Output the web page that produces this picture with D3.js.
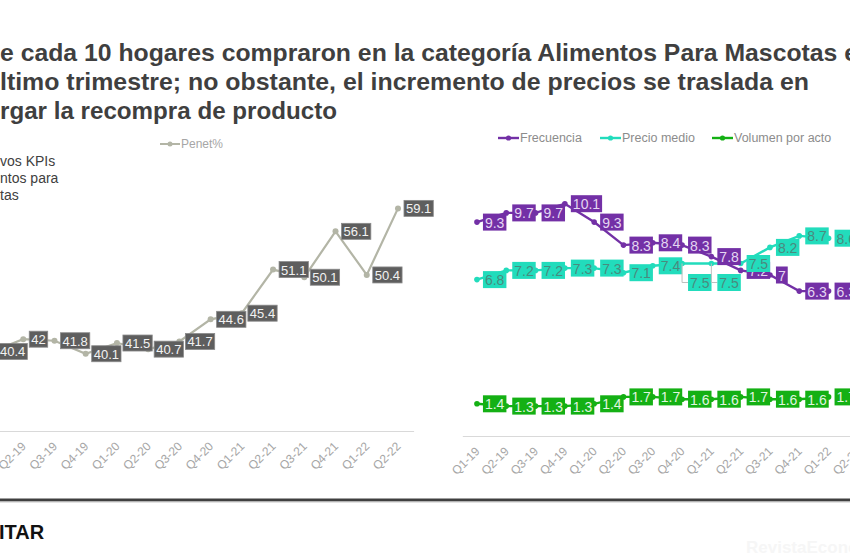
<!DOCTYPE html>
<html><head><meta charset="utf-8">
<script src="https://cdn.jsdelivr.net/npm/d3@7"></script>
<style>
html,body{margin:0;padding:0;background:#fff;overflow:hidden}
svg{display:block;font-family:"Liberation Sans",Arial,sans-serif}
</style></head>
<body>
<svg id="c" width="850" height="560"></svg>
<script>
// ---------- data ----------
const quarters = ["Q1-19","Q2-19","Q3-19","Q4-19","Q1-20","Q2-20","Q3-20","Q4-20","Q1-21","Q2-21","Q3-21","Q4-21","Q1-22","Q2-22"];
const penet = [40.4,42,41.8,40.1,41.5,40.7,41.7,44.6,45.4,51.1,50.1,56.1,50.4,59.1];
const frecuencia = [9.3,9.7,9.7,10.1,9.3,8.3,8.4,8.3,7.8,7.2,7,6.3,6.3];
const precioMedio = [6.8,7.2,7.2,7.3,7.3,7.1,7.4,7.5,7.5,7.5,8.2,8.7,8.6];
const volumenActo = [1.4,1.3,1.3,1.3,1.4,1.7,1.7,1.6,1.6,1.7,1.6,1.6,1.7];
const titleLines = [
  "e cada 10 hogares compraron en la categoría Alimentos Para Mascotas e",
  "ltimo trimestre; no obstante, el incremento de precios se traslada en",
  "rgar la recompra de producto"
];
const sideText = ["vos KPIs","ntos para","tas"];
const seriesNames = ["Frecuencia","Precio medio","Volumen por acto"];

const svg = d3.select("#c");
const FONT = '"Liberation Sans", Arial, sans-serif';

// ---------- title ----------
const titleW = [858, 809, 337];
svg.append("g").selectAll("text").data(titleLines).join("text")
  .attr("x", 0).attr("y", (d,i)=>61 + i*29)
  .attr("font-size", 24.5).attr("font-weight", "bold").attr("fill", "#3f3f3f")
  .attr("textLength", (d,i)=>titleW[i]).attr("lengthAdjust","spacingAndGlyphs")
  .text(d=>d);

// side text
svg.append("g").selectAll("text").data(sideText).join("text")
  .attr("x", 0).attr("y", (d,i)=>166 + i*17)
  .attr("font-size", 14).attr("fill", "#404040").text(d=>d);

// ---------- helpers ----------
function labelBoxes(g, pts, opt){
  const grp = g.append("g");
  pts.forEach(p=>{
    const lg = grp.append("g");
    const t = lg.append("text").attr("font-size", opt.fs).attr("fill", opt.tc)
      .attr("dominant-baseline","central").text(p.label);
    const w = t.node().getComputedTextLength() + opt.pad*2;
    let bx = p.x + 6, cy = p.y;
    if (p.below){
      cy = p.y + 19;
      lg.insert("path","text").attr("d", `M${p.x},${p.y}V${cy}H${bx}`)
        .attr("fill","none").attr("stroke","#bfbfbf").attr("stroke-width",1);
    }
    lg.insert("rect","text").attr("x", bx).attr("y", cy - opt.h/2)
      .attr("width", w).attr("height", opt.h).attr("fill", opt.bg)
      .attr("stroke", opt.stroke || "none").attr("stroke-width", 0.8);
    t.attr("x", bx + opt.pad).attr("y", cy + 0.5);
  });
}
function styleAxis(ax, color){
  ax.select(".domain").attr("stroke", "#d9d9d9").attr("stroke-width", 1);
  ax.selectAll(".tick line").remove();
  ax.selectAll(".tick text")
    .attr("x", 0).attr("y", 0).attr("dy", "0.35em")
    .attr("transform", "translate(0,13) rotate(-45)")
    .attr("text-anchor", "end").attr("fill", color)
    .attr("font-size", 12).attr("font-family", FONT);
}

// ---------- left chart ----------
const xL = d3.scalePoint().domain(quarters).range([-23.6, 413.6]).padding(0.5);
const yL = d3.scaleLinear().domain([30, 70]).range([431, 125]);
const gL = svg.append("g");
const axL = gL.append("g").attr("transform", `translate(0,${yL(30)})`)
  .call(d3.axisBottom(xL).tickSize(0).tickSizeOuter(0));
styleAxis(axL, "#a6a6a6");

const penetColor = "#b3b5a6";
const ptsL = quarters.map((q,i)=>({x:xL(q), y:yL(penet[i]), label:String(penet[i])}));
gL.append("path").datum(ptsL)
  .attr("d", d3.line().x(d=>d.x).y(d=>d.y))
  .attr("fill","none").attr("stroke", penetColor).attr("stroke-width", 2.2);
gL.append("g").selectAll("circle").data(ptsL).join("circle")
  .attr("cx", d=>d.x).attr("cy", d=>d.y).attr("r", 3).attr("fill", penetColor);
labelBoxes(gL, ptsL, {fs:13, tc:"#f2f2f2", bg:"#5e5e5e", h:16, pad:2, stroke:"#8a8a8a"});

// left legend
const lgL = gL.append("g").attr("transform","translate(160,144)");
lgL.append("line").attr("x1",0).attr("x2",20).attr("stroke",penetColor).attr("stroke-width",2);
lgL.append("circle").attr("cx",10).attr("r",2.5).attr("fill",penetColor);
lgL.append("text").attr("x",21).attr("dominant-baseline","central").attr("font-size",12)
  .attr("fill","#a6a6a6").text("Penet%");

// ---------- right chart ----------
const xR = d3.scalePoint().domain(quarters).range([462.3, 872.5]).padding(0.5);
const yR = d3.scaleLinear().domain([0, 12]).range([436, 160]);
const gR = svg.append("g");
const axR = gR.append("g").attr("transform", `translate(0,${yR(0)})`)
  .call(d3.axisBottom(xR).tickSize(0).tickSizeOuter(0));
styleAxis(axR, "#a6a6a6");

const colF = "#7330a6", colP = "#22dcbc", colV = "#14b014";
function pts(arr){ return arr.map((v,i)=>({x:xR(quarters[i]), y:yR(v), label:String(v)})); }
const ptsF = pts(frecuencia), ptsP = pts(precioMedio), ptsV = pts(volumenActo);
const leaderIdx = [7, 8];
ptsP.forEach((p,i)=>{ if (leaderIdx.includes(i)) p.below = true; });

[[ptsV,colV],[ptsP,colP],[ptsF,colF]].forEach(([p,c])=>{
  gR.append("path").datum(p).attr("d", d3.line().x(d=>d.x).y(d=>d.y))
    .attr("fill","none").attr("stroke", c).attr("stroke-width", 2.4);
  gR.append("g").selectAll("circle").data(p).join("circle")
    .attr("cx", d=>d.x).attr("cy", d=>d.y).attr("r", 2.8).attr("fill", c);
});
labelBoxes(gR, ptsF, {fs:14, tc:"#e4d6f2", bg:colF, h:17, pad:2});
labelBoxes(gR, ptsP, {fs:14, tc:"#4a8a7e", bg:colP, h:17, pad:2});
labelBoxes(gR, ptsV, {fs:14, tc:"#e0f5e0", bg:colV, h:17, pad:2});

// right legend
const legX = [498, 600, 712];
[colF, colP, colV].forEach((c,i)=>{
  const lg = gR.append("g").attr("transform",`translate(${legX[i]},138)`);
  lg.append("line").attr("x1",0).attr("x2",21).attr("stroke",c).attr("stroke-width",2.4);
  lg.append("circle").attr("cx",10.5).attr("r",2.6).attr("fill",c);
  lg.append("text").attr("x",22).attr("dominant-baseline","central").attr("font-size",12.5)
    .attr("fill","#8c8c8c").text(seriesNames[i]);
});

// ---------- footer ----------
svg.append("rect").attr("x",0).attr("y",498.5).attr("width",850).attr("height",3).attr("fill","#404040");
svg.append("rect").attr("x",0).attr("y",501.5).attr("width",850).attr("height",1).attr("fill","#c8c8c8");
svg.append("text").attr("x",-1).attr("y",539).attr("font-size",20).attr("font-weight","bold")
  .attr("fill","#111").text("ITAR");
svg.append("text").attr("x",746).attr("y",553).attr("font-size",17).attr("font-weight","bold")
  .attr("fill","#f6f6f6").text("RevistaEconomia");
</script>
</body></html>
